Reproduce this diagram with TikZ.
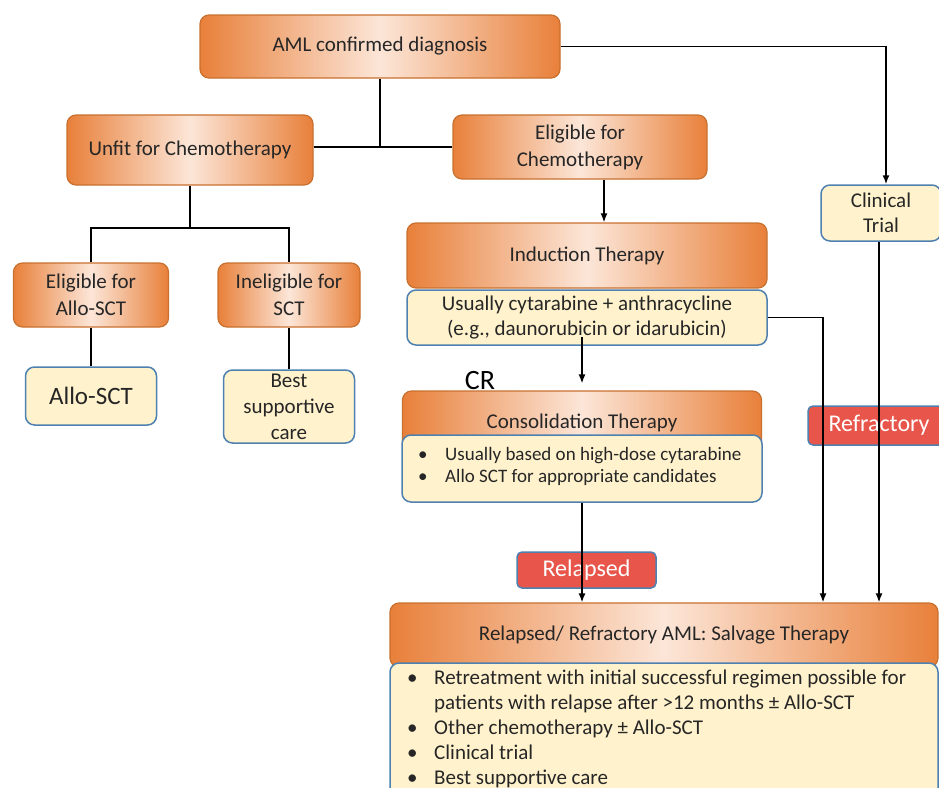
\documentclass[tikz,border=0pt]{standalone}
\usepackage{fontspec}
\setmainfont{Carlito}
\usetikzlibrary{arrows.meta}
\definecolor{orD}{HTML}{E8803A}
\definecolor{orL}{HTML}{FCE6D8}
\definecolor{orB}{HTML}{C9702F}
\definecolor{ylF}{HTML}{FFF2CC}
\definecolor{blB}{HTML}{4F81B0}
\definecolor{rdF}{HTML}{E8554A}
\definecolor{txt}{HTML}{262626}
\begin{document}
\begin{tikzpicture}[x=1pt,y=-1pt,
 obox/.style={draw=orB, line width=1.2pt, rounded corners=9pt, left color=orD, right color=orD, middle color=orL, text=txt, align=center, inner sep=0pt, font=\fontsize{21}{27}\selectfont},
 ybox/.style={draw=blB, line width=1.5pt, rounded corners=9pt, fill=ylF, text=txt, align=center, inner sep=0pt, font=\fontsize{21}{26}\selectfont},
 rbox/.style={draw=blB, line width=1.5pt, rounded corners=5pt, fill=rdF, text=white, inner sep=0pt, font=\fontsize{24}{26}\selectfont},
 conn/.style={line width=1.5pt, black},
 arr/.style={conn, -{Latex[length=9pt,width=7pt]}},
]
\useasboundingbox (0,0) rectangle (939,787);
\clip (0,0) rectangle (939,787);
\fill[white] (0,0) rectangle (939,787);

% orange boxes
\node[obox, minimum width=360pt, minimum height=63pt] (aml) at (380,46.5) {AML confirmed diagnosis};
\node[obox, minimum width=246pt, minimum height=70pt] (unfit) at (190,150) {Unfit for Chemotherapy};
\node[obox, minimum width=254pt, minimum height=64pt] (elig) at (580,147) {Eligible for\\Chemotherapy};
\node[obox, minimum width=155pt, minimum height=64pt] (eallo) at (91,295) {Eligible for\\Allo-SCT};
\node[obox, minimum width=142pt, minimum height=64pt] (inel) at (289,295) {Ineligible for\\SCT};
\node[obox, minimum width=360pt, minimum height=65pt] (ind) at (587,255.5) {Induction Therapy};
\node[obox, minimum width=359pt, minimum height=64pt] (cons) at (582,423) {Consolidation Therapy};
\node[obox, minimum width=548pt, minimum height=64pt] (salv) at (664,635) {Relapsed/ Refractory AML: Salvage Therapy};

% yellow boxes
\node[ybox, minimum width=131pt, minimum height=58pt, font=\fontsize{25}{28}\selectfont] (allo) at (91,396) {Allo-SCT};
\node[ybox, minimum width=131pt, minimum height=73pt] (bsc) at (289,406.5) {Best\\supportive\\care};
\node[ybox, minimum width=360pt, minimum height=55pt, font=\fontsize{21}{25}\selectfont] (isub) at (587,317.5) {Usually cytarabine + anthracycline\\(e.g., daunorubicin or idarubicin)};
\node[ybox, minimum width=360pt, minimum height=67pt] (csub) at (582,468.5) {};
\node[anchor=north west, inner sep=0pt, text=txt, font=\fontsize{19}{22}\selectfont] (ctxt) at (418,445)
 {\begin{tabular}{@{}p{27pt}@{}l@{}}\textbullet & Usually based on high-dose cytarabine\\ \textbullet & Allo SCT for appropriate candidates\end{tabular}};
\node[ybox, minimum width=548pt, minimum height=147pt] (ssub) at (664,736.5) {};
\node[anchor=north west, inner sep=0pt, text=txt, font=\fontsize{21}{25}\selectfont] (stxt) at (407,667)
 {\begin{tabular}{@{}p{27pt}@{}l@{}}\textbullet & Retreatment with initial successful regimen possible for\\ & patients with relapse after >12 months ± Allo-SCT\\ \textbullet & Other chemotherapy ± Allo-SCT\\ \textbullet & Clinical trial\\ \textbullet & Best supportive care\end{tabular}};
\node[ybox, minimum width=120pt, minimum height=56pt, font=\fontsize{21}{25}\selectfont] (ct) at (881,213) {Clinical\\Trial};

% red labels
\node[rbox, minimum width=142pt, minimum height=39pt] (refr) at (879,425.5) {Refractory};
\node[rbox, minimum width=139pt, minimum height=36pt] (rel) at (586.5,570) {Relapsed};

\node[text=black, inner sep=0pt, font=\fontsize{28}{30}\selectfont] (cr) at (480,381) {CR};

% connectors
\coordinate (ub) at (190,228);
\draw[conn] (aml.south) -- (aml.south |- elig.west);
\draw[conn] (unfit.east |- elig.west) -- (elig.west);
\draw[conn] (unfit.south) -- (ub);
\draw[conn] (eallo.north) |- (ub) -| (inel.north);
\draw[conn] (eallo.south) -- (allo.north);
\draw[conn] (inel.south) -- (bsc.north);
\draw[arr] ([xshift=24pt]elig.south) -- ([xshift=17pt]ind.north);
\draw[arr, shorten >=7pt] ([xshift=-5pt,yshift=9pt]isub.south) -- (cons.north);
\draw[arr] (csub.south) -- (csub.south |- salv.north);
\coordinate (s2) at ([xshift=159pt]salv.north);
\draw[arr] (isub.east) -| (s2);
\draw[arr] (aml.east) -| ([xshift=5pt]ct.north);
\coordinate (ctb) at ([xshift=-2pt]ct.south);
\draw[arr] (ctb) -- (ctb |- salv.north);
\end{tikzpicture}
\end{document}
